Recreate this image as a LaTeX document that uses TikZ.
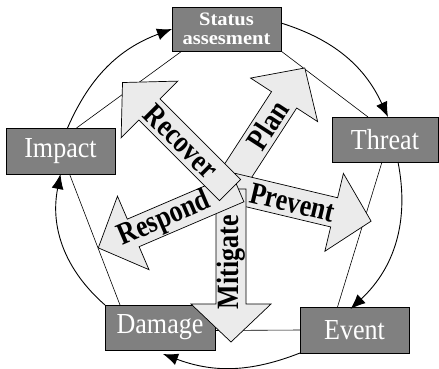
\documentclass[tikz,border=0pt]{standalone}
\usepackage{fontspec}
\usepackage{graphicx}
\setmainfont{Liberation Serif}
\usetikzlibrary{arrows.meta}

\definecolor{boxgray}{RGB}{128,128,128}
\definecolor{arrowfill}{RGB}{235,235,235}

% narrow (condensed) lettering
\newcommand{\narrow}[2]{\scalebox{#1}[1]{#2}}

% broad block arrow: start point (x, y measured downward), direction, total length
\newcommand{\flowarrow}[4]{%
  \begin{scope}[shift={(#1,-#2)}, rotate=#3]
    \draw[blockarrow] (0,-15) -- ({#4-38},-15) -- ({#4-38},-40) -- (#4,0)
      -- ({#4-38},40) -- ({#4-38},15) -- (0,15) -- cycle;
  \end{scope}}

\begin{document}
\begin{tikzpicture}[x=1pt, y=1pt,
  stagebox/.style={draw=black, line width=0.8pt, fill=boxgray, text=white,
    inner sep=0pt, outer sep=0pt, font=\fontsize{29}{29}\selectfont},
  blockarrow/.style={draw=black, line width=0.7pt, fill=arrowfill, line join=miter},
  arrowlabel/.style={font=\fontsize{31}{31}\selectfont\bfseries, inner sep=0pt, transform shape},
  cycleline/.style={draw=black, line width=0.9pt, -{Latex[length=15pt,width=12pt]}},
  linkline/.style={draw=black, line width=0.6pt}]

\useasboundingbox (0,0) rectangle (439,-368);

% stages of the cycle
\node[stagebox, minimum width=109pt, minimum height=44pt, align=center,
  font=\fontsize{19}{19}\selectfont\bfseries] (status) at (226.5,-29)
  {\scalebox{1.08}[1]{Status}\\\scalebox{1.08}[1]{assesment}};
\node[stagebox, minimum width=106pt, minimum height=45pt] (threat) at (385,-139.5) {\narrow{0.9}{Threat}};
\node[stagebox, minimum width=109pt, minimum height=46pt] (impact) at (60.5,-151) {\narrow{0.9}{Impact}};
\node[stagebox, minimum width=110pt, minimum height=45pt] (damage) at (160,-327.5) {\narrow{0.9}{Damage}};
\node[stagebox, minimum width=109pt, minimum height=46pt] (event) at (354.5,-330) {\narrow{0.9}{Event}};

% inner pentagon
\draw[linkline] ([xshift=10pt]status.south west) -- ([xshift=16pt]impact.north);
\draw[linkline] (status.south east) -- ([xshift=-17pt]threat.north);
\draw[linkline] ([xshift=-3pt]threat.south) -- ([xshift=-17pt]event.north);
\draw[linkline] (event.west) -- ([yshift=-3pt]damage.east);
\draw[linkline] ([xshift=15pt]damage.north west) -- ([xshift=9pt]impact.south);

% outer cycle
\draw[cycleline] ([xshift=7pt]impact.north) to[bend left=23] (status.west);
\draw[cycleline] ([yshift=6pt]status.east) to[bend left=24] ([xshift=3pt]threat.north);
\draw[cycleline] ([xshift=13pt]threat.south) to[bend left=29] ([xshift=-4pt,yshift=-2pt]event.north);
\draw[cycleline] (event.south west) to[bend left=21] ([xshift=3pt,yshift=-4pt]damage.south);
\draw[cycleline] (damage.north west) to[bend left=30] (impact.south);

% response arrows from the centre
\flowarrow{234}{177}{57}{130}
\flowarrow{232}{188}{-13.4}{143}
\flowarrow{231}{189}{-90}{153}
\flowarrow{238}{188}{203.2}{152}
\flowarrow{230}{190}{135}{152}

\begin{scope}[shift={(234,-177)}, rotate=57]
  \node[arrowlabel] (plan) at (62,0) {\narrow{0.84}{Plan}};
\end{scope}
\begin{scope}[shift={(232,-188)}, rotate=-13.4]
  \node[arrowlabel] (prevent) at (62,0) {\narrow{0.84}{Prevent}};
\end{scope}
\begin{scope}[shift={(231,-189)}, rotate=-90]
  \node[arrowlabel, rotate=180] (mitigate) at (73,0) {\narrow{0.84}{Mitigate}};
\end{scope}
\begin{scope}[shift={(238,-188)}, rotate=203.2]
  \node[arrowlabel, rotate=180] (respond) at (80,0) {\narrow{0.84}{Respond}};
\end{scope}
\begin{scope}[shift={(230,-190)}, rotate=135]
  \node[arrowlabel, rotate=180] (recover) at (69,0) {\narrow{0.84}{Recover}};
\end{scope}

\end{tikzpicture}
\end{document}
